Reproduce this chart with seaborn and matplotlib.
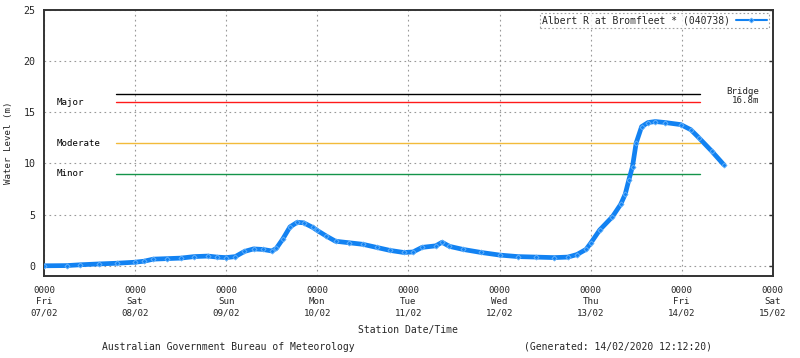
import matplotlib
matplotlib.use("Agg")
import matplotlib.pyplot as plt
import seaborn as sns
import pandas as pd
import numpy as np

# ---- data ----
days = [0.0, 0.25, 0.4, 0.6, 0.8, 1.0, 1.1, 1.2, 1.35, 1.5, 1.65, 1.8, 1.9, 2.0,
        2.1, 2.2, 2.3, 2.4, 2.5, 2.55, 2.62, 2.7, 2.78, 2.85, 2.95, 3.0, 3.1, 3.2,
        3.35, 3.5, 3.65, 3.8, 3.95, 4.05, 4.15, 4.3, 4.37, 4.45, 4.6, 4.8, 5.0,
        5.2, 5.4, 5.6, 5.75, 5.85, 5.95, 6.0, 6.1, 6.24, 6.33, 6.38, 6.42, 6.46,
        6.5, 6.56, 6.63, 6.71, 6.82, 6.99, 7.1, 7.19, 7.33, 7.46]
level = [0.0, 0.02, 0.1, 0.18, 0.25, 0.35, 0.45, 0.65, 0.7, 0.75, 0.9, 0.95, 0.85, 0.8,
         0.9, 1.4, 1.65, 1.6, 1.45, 1.7, 2.6, 3.8, 4.25, 4.2, 3.75, 3.45, 2.9, 2.4,
         2.25, 2.1, 1.8, 1.5, 1.3, 1.35, 1.8, 1.95, 2.3, 1.9, 1.6, 1.3, 1.05,
         0.9, 0.85, 0.8, 0.85, 1.1, 1.6, 2.2, 3.5, 4.8, 6.0, 7.0, 8.4, 9.7,
         12.0, 13.6, 14.0, 14.1, 14.0, 13.8, 13.3, 12.5, 11.2, 9.9]
series_name = "Albert R at Bromfleet * (040738)"

thresh_names = ["Bridge", "Major", "Moderate", "Minor"]
thresh_values = [16.8, 16.0, 12.0, 9.0]
thresh_colors = ["#000000", "#ff1a1a", "#f2bb3a", "#14944a"]
thresh_start, thresh_end = 0.79, 7.2

tick_labels = ["0000\nFri\n07/02", "0000\nSat\n08/02", "0000\nSun\n09/02",
               "0000\nMon\n10/02", "0000\nTue\n11/02", "0000\nWed\n12/02",
               "0000\nThu\n13/02", "0000\nFri\n14/02", "0000\nSat\n15/02"]

# ---- plot ----
sns.set_style("white")
plt.rcParams['font.family'] = ['DejaVu Sans Mono']
fs = 6.6

fig = plt.figure(figsize=(8, 3.58), dpi=100)
ax = fig.add_axes([0.055, 0.229, 0.911, 0.743])

for name, v, c in zip(thresh_names, thresh_values, thresh_colors):
    ax.plot([thresh_start, thresh_end], [v, v], color=c, lw=1.0, zorder=2)
    if name != "Bridge":
        ax.text(0.14, v, name, fontsize=fs, va="center", ha="left", color="black")
ax.text(7.67, 17.05, "Bridge", fontsize=fs, ha="center", va="center")
ax.text(7.7, 16.2, "16.8m", fontsize=fs, ha="center", va="center")

df = pd.DataFrame({"day": days, "level": level})
sns.lineplot(data=df, x="day", y="level", ax=ax, color="#1282f2", lw=3.4,
             marker="D", markersize=2.6, markeredgecolor="#6ab4fa",
             markerfacecolor="#1282f2", markeredgewidth=0.6, label=series_name,
             zorder=3)

ax.set_xlim(0, 8)
ax.set_ylim(-1, 25)
ax.set_xticks(range(9))
ax.set_xticklabels(tick_labels, fontsize=fs, linespacing=1.35)
ax.set_xticks(np.arange(0, 8.01, 0.25), minor=True)
ax.set_yticks([0, 5, 10, 15, 20, 25])
ax.set_yticklabels(["0", "5", "10", "15", "20", "25"], fontsize=fs + 0.6)
ax.tick_params(axis="both", which="both", direction="in", right=True, top=False,
               length=3, width=1, color="#333333")
ax.tick_params(axis="x", which="major", pad=7)
ax.tick_params(axis="y", which="major", pad=6)
ax.grid(True, which="major", color="#999999", linestyle=(0, (1.5, 3)), lw=0.8)

for s in ax.spines.values():
    s.set_color("#333333")
    s.set_linewidth(1.4)

ax.set_xlabel("Station Date/Time", fontsize=fs + 0.4, labelpad=5)
ax.set_ylabel("Water Level (m)", fontsize=fs, labelpad=8)

leg = ax.legend(loc="upper right", fontsize=fs + 0.4, markerfirst=False,
                frameon=True, fancybox=False, handlelength=3.2,
                borderpad=0.25, borderaxespad=0.35, handletextpad=0.6)
fr = leg.get_frame()
fr.set_linestyle((0, (1.5, 2)))
fr.set_edgecolor("#888888")
fr.set_linewidth(0.8)
for h in leg.get_lines():
    h.set_linewidth(1.5)
    h.set_markersize(2.5)

fig.text(0.285, 0.018, "Australian Government Bureau of Meteorology", fontsize=fs + 0.4,
         ha="center", va="bottom")
fig.text(0.773, 0.018, "(Generated: 14/02/2020 12:12:20)", fontsize=fs + 0.4,
         ha="center", va="bottom")

fig.savefig("out.png", dpi=100)
